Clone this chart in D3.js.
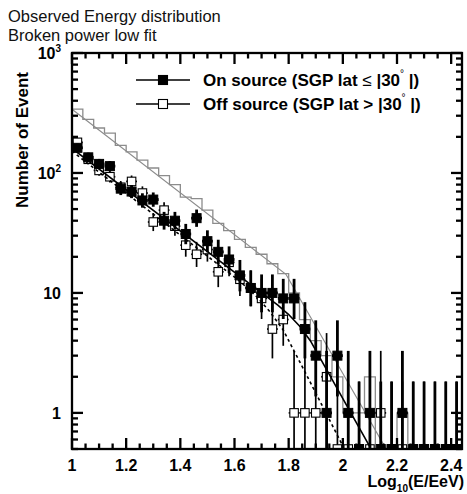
<!DOCTYPE html>
<html>
<head>
<meta charset="utf-8">
<script src="https://cdn.jsdelivr.net/npm/d3@7"></script>
<style>
  html, body { margin: 0; padding: 0; background: #fff; }
  svg { display: block; font-family: "Liberation Sans", Arial, Helvetica, sans-serif; }
</style>
</head>
<body>
<svg id="chart" width="467" height="494"></svg>
<script>
// Bin centres of log10(E/EeV), bin width 0.04
const binCenters = [1.02, 1.06, 1.10, 1.14, 1.18, 1.22, 1.26, 1.30, 1.34, 1.38, 1.42, 1.46,
                    1.50, 1.54, 1.58, 1.62, 1.66, 1.70, 1.74, 1.78, 1.82, 1.86, 1.90, 1.94,
                    1.98, 2.02, 2.06, 2.10, 2.14, 2.18, 2.22, 2.26, 2.30, 2.34, 2.38, 2.42];
const binWidth = 0.04;

// On source (SGP lat <= |30|): filled squares
const onSource = [162, 135, 119, 114, 74, 70, 59, 60, 40, 40, 31, 42,
                  27, 22, 19, 14, 11, 10, 10, 9, 9, 5, 3, 1,
                  3, 1, 0, 1, 0, 0, 1, 0, 0, 0, 0, 0];

// Off source (SGP lat > |30|): open squares
const offSource = [180, 130, 105, 93, 76, 85, 68, 39, 49, 36, 25, 21,
                   23, 15, 18, 13, 11, 9, 5, 6, 1, 1, 1, 2,
                   0, 0, 0, 0, 1, 0, 0, 0, 0, 0, 0, 0];

// Off source, full sample: grey histogram
const offTotal = [340, 280, 237, 215, 170, 150, 128, 110, 95, 80, 63, 61,
                  49, 38, 33, 28, 24, 21, 17.5, 14.5, 10, 6, 4, 3,
                  2, 1, 1, 2, 0, 0, 1, 0, 0, 0, 0, 0];

// Broken power-law fits, as [log10(E/EeV), N] knots
const onFit  = [[1.00, 160], [1.70, 10.0], [1.76, 7.9], [1.80, 6.6], [1.84, 5.3], [1.88, 4.0], [2.10, 0.52]];
const offFit = [[1.00, 152], [1.62, 12.5], [1.68, 9.4], [1.73, 7.0], [1.78, 4.9], [1.86, 2.2], [2.00, 0.53]];
const totFit = [[1.00, 340], [1.79, 14.3], [2.16, 0.5]];

// Axis ticks
const xMajor = [1.0, 1.2, 1.4, 1.6, 1.8, 2.0, 2.2, 2.4];
const xLabels = ["1", "1.2", "1.4", "1.6", "1.8", "2", "2.2", "2.4"];
const yMajor = [1, 10, 100, 1000];

const svg = d3.select("#chart");
const frameL = 72, frameR = 462, frameT = 53, frameB = 449;

const x = d3.scaleLinear().domain([1.0, 2.44]).range([frameL, frameR]);
const y = d3.scaleLog().domain([0.5, 1000]).range([frameB, frameT]);
const yc = v => y(Math.max(v, 0.5));

// Poisson 68% interval (Gehrels approximation)
function poissonLow(n) {
  if (n <= 0) return 0;
  const t = 1 - 1 / (9 * n) - 1 / (3 * Math.sqrt(n));
  return n * t * t * t;
}
function poissonHigh(n) {
  const m = n + 1;
  const t = 1 - 1 / (9 * m) + 1 / (3 * Math.sqrt(m));
  return m * t * t * t;
}

// Clip region for the plotting frame
svg.append("defs").append("clipPath").attr("id", "frame")
  .append("rect").attr("x", frameL).attr("y", frameT)
  .attr("width", frameR - frameL).attr("height", frameB - frameT);

const plot = svg.append("g").attr("clip-path", "url(#frame)");

// Grey histogram of the full off-source sample
const histPts = [];
binCenters.forEach((c, i) => {
  histPts.push([c - binWidth / 2, offTotal[i]]);
  histPts.push([c + binWidth / 2, offTotal[i]]);
});
plot.append("path")
  .attr("d", d3.line().x(d => x(d[0])).y(d => d[1] > 0 ? y(d[1]) : frameB + 4)(histPts))
  .attr("fill", "none").attr("stroke", "#8c8c8c").attr("stroke-width", 1.3);

const fitLine = d3.line().x(d => x(d[0])).y(d => y(d[1]));

plot.append("path").attr("d", fitLine(totFit))
  .attr("fill", "none").attr("stroke", "#8c8c8c").attr("stroke-width", 1.2);

// Draws one series of points with Poisson error bars
function drawSeries(values, opts) {
  const g = plot.append("g");
  const half = (x(binWidth) - x(0)) / 2;
  binCenters.forEach((c, i) => {
    const n = values[i];
    const cx = x(c), cy = yc(n);
    const lo = poissonLow(n), hi = poissonHigh(n);
    g.append("line").attr("x1", cx).attr("x2", cx)
      .attr("y1", yc(hi)).attr("y2", lo > 0.5 ? y(lo) : frameB + 4)
      .attr("stroke", "#000").attr("stroke-width", opts.bar);
    if (n > 0) {
      g.append("line").attr("x1", cx - half).attr("x2", cx + half)
        .attr("y1", cy).attr("y2", cy)
        .attr("stroke", "#000").attr("stroke-width", opts.bar);
    }
    g.append("rect")
      .attr("x", cx - opts.size / 2).attr("y", cy - opts.size / 2)
      .attr("width", opts.size).attr("height", opts.size)
      .attr("fill", opts.fill).attr("stroke", opts.stroke).attr("stroke-width", opts.sw);
  });
}

drawSeries(offSource, { size: 8.5, fill: "#fff", stroke: "#000", sw: 1.1, bar: 1.7 });

plot.append("path").attr("d", fitLine(offFit))
  .attr("fill", "none").attr("stroke", "#000").attr("stroke-width", 1.6)
  .attr("stroke-dasharray", "3,3");

drawSeries(onSource, { size: 9, fill: "#000", stroke: "#000", sw: 1, bar: 2.8 });

plot.append("path").attr("d", fitLine(onFit))
  .attr("fill", "none").attr("stroke", "#000").attr("stroke-width", 1.6);

// Frame and ticks
const axes = svg.append("g").attr("stroke", "#000").attr("stroke-width", 2.3);
axes.append("rect").attr("x", frameL).attr("y", frameT)
  .attr("width", frameR - frameL).attr("height", frameB - frameT).attr("fill", "none");

const xMinor = d3.range(0, 29).map(k => +(1.0 + 0.05 * k).toFixed(2));
xMinor.forEach(v => {
  const isMajor = xMajor.some(m => Math.abs(m - v) < 1e-6);
  const len = isMajor ? 11 : 5.5;
  axes.append("line").attr("x1", x(v)).attr("x2", x(v)).attr("y1", frameB).attr("y2", frameB - len);
  axes.append("line").attr("x1", x(v)).attr("x2", x(v)).attr("y1", frameT).attr("y2", frameT + len);
});

const yTicks = [];
[0.1, 1, 10, 100].forEach(d => {
  for (let k = 1; k <= 9; k++) yTicks.push(+(k * d).toPrecision(3));
});
yTicks.push(1000);
yTicks.filter(v => v >= 0.5 && v <= 1000).forEach(v => {
  const isMajor = yMajor.includes(v);
  const len = isMajor ? 11 : 6;
  axes.append("line").attr("x1", frameL).attr("x2", frameL + len).attr("y1", y(v)).attr("y2", y(v));
  axes.append("line").attr("x1", frameR).attr("x2", frameR - len).attr("y1", y(v)).attr("y2", y(v));
});

// Tick labels
const lab = svg.append("g").attr("font-weight", "bold").attr("font-size", 16).attr("fill", "#000");
xMajor.forEach((v, i) => {
  lab.append("text").attr("x", x(v)).attr("y", 471).attr("text-anchor", "middle").text(xLabels[i]);
});
yMajor.forEach(v => {
  const t = lab.append("text").attr("x", 61).attr("y", y(v) + 6).attr("text-anchor", "end");
  if (v === 100 || v === 1000) {
    t.append("tspan").text("10");
    t.append("tspan").attr("font-size", 10).attr("dy", -7).text(v === 100 ? "2" : "3");
  } else {
    t.text(String(v));
  }
});

// Axis titles
const xt = svg.append("text").attr("x", 464).attr("y", 487).attr("text-anchor", "end")
  .attr("font-weight", "bold").attr("font-size", 16);
xt.append("tspan").text("Log");
xt.append("tspan").attr("font-size", 10).attr("dy", 5).text("10");
xt.append("tspan").attr("dy", -5).text("(E/EeV)");

svg.append("text").attr("transform", "translate(28,140) rotate(-90)")
  .attr("text-anchor", "middle").attr("font-weight", "bold").attr("font-size", 17)
  .text("Number of Event");

// Title lines
svg.append("text").attr("x", 8).attr("y", 22).attr("font-size", 16.5).attr("fill", "#111")
  .text("Observed Energy distribution");
svg.append("text").attr("x", 8).attr("y", 41).attr("font-size", 16.5).attr("fill", "#111")
  .text("Broken power low fit");

// Legend
const legendRows = [
  { y: 80, fill: "#000", rel: "\u2264", label: "On source (SGP lat " },
  { y: 104, fill: "#fff", rel: ">", label: "Off source (SGP lat " }
];
legendRows.forEach(r => {
  svg.append("line").attr("x1", 136).attr("x2", 190).attr("y1", r.y).attr("y2", r.y)
    .attr("stroke", "#000").attr("stroke-width", 1.6);
  svg.append("rect").attr("x", 158.5).attr("y", r.y - 4.5).attr("width", 9).attr("height", 9)
    .attr("fill", r.fill).attr("stroke", "#000").attr("stroke-width", 1.1);
  const t = svg.append("text").attr("x", 203).attr("y", r.y + 6)
    .attr("font-size", 17).attr("font-weight", "bold");
  t.append("tspan").text(r.label);
  t.append("tspan").attr("font-weight", r.rel === ">" ? "bold" : "normal").text(r.rel + " ");
  t.append("tspan").text("|30");
  t.append("tspan").attr("font-size", 10).attr("font-weight", "normal").attr("dy", -9).text("\u00b0");
  t.append("tspan").attr("dy", 9).text(" |)");
});
</script>
</body>
</html>
